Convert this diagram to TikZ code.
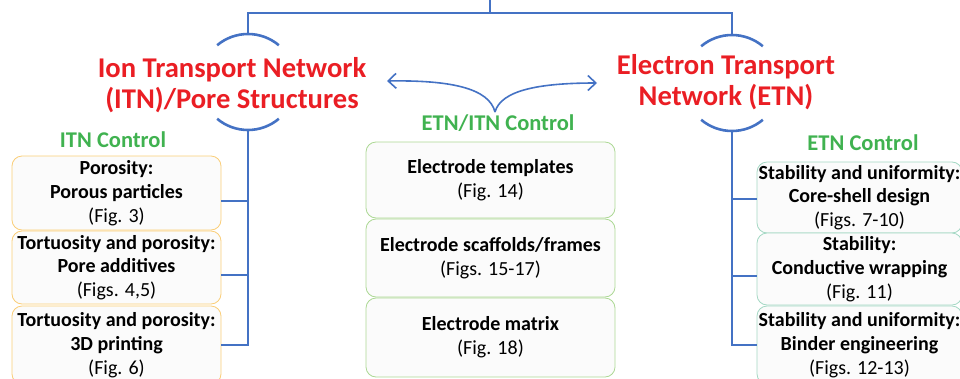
\documentclass[tikz,border=0pt]{standalone}
\usepackage{fontspec}
\setmainfont{Carlito}
\usetikzlibrary{arrows.meta}
\definecolor{linkblue}{RGB}{68,114,196}
\definecolor{titlered}{RGB}{234,30,36}
\definecolor{ctrlgreen}{RGB}{64,178,80}
\definecolor{itnedge}{RGB}{250,206,120}
\definecolor{midedge}{RGB}{172,216,148}
\definecolor{etnedge}{RGB}{164,216,196}

\begin{document}
\begin{tikzpicture}[x=1pt,y=-1pt,
  link/.style={draw=linkblue,line width=1.6pt},
  ring/.style={draw=linkblue,line width=2.6pt},
  title/.style={text=titlered,align=center,inner sep=0pt,
    font=\fontsize{28.6}{30.5}\selectfont\bfseries},
  ctrl/.style={text=ctrlgreen,inner sep=0pt,font=\fontsize{22.5}{24}\selectfont\bfseries},
  card/.style={rounded corners=10pt,fill=white!98.5!black,align=center,inner sep=0pt,
    line width=0.8pt,font=\fontsize{20}{23.8}\selectfont\bfseries}]
  \useasboundingbox (0,0) rectangle (960,378);

  % titles and rings
  \node[title] (itn) at (232,85) {Ion Transport Network\\(ITN)/Pore Structures};
  \node[title] (etn) at (726,82) {Electron Transport\\Network (ETN)};
  \coordinate (itnring) at (248,82);
  \coordinate (etnring) at (732,83);
  \draw[ring] ([shift={(-50:48)}]itnring) arc[start angle=-50,end angle=-130,radius=48];
  \draw[ring] ([shift={(50:48)}]itnring) arc[start angle=50,end angle=130,radius=48];
  \draw[ring] ([shift={(-50:48)}]etnring) arc[start angle=-50,end angle=-130,radius=48];
  \draw[ring] ([shift={(50:48)}]etnring) arc[start angle=50,end angle=130,radius=48];
  \coordinate (itntop) at ([yshift=48pt]itnring);
  \coordinate (itnbot) at ([yshift=-48pt]itnring);
  \coordinate (etntop) at ([yshift=48pt]etnring);
  \coordinate (etnbot) at ([yshift=-48pt]etnring);

  % top bus
  \coordinate (top) at (490,0);
  \coordinate (bus) at (490,13);
  \draw[link] (top) -- (bus);
  \draw[link] (itntop) |- (bus) -| (etntop);

  % two-way arrow
  \coordinate (cusp) at (495,112);
  \coordinate (itntip) at (387,81);
  \coordinate (etntip) at (597,83);
  \draw[link,-{Straight Barb[length=8pt,width=15pt]}] (cusp) .. controls (489,88) and (450,80) .. (itntip);
  \draw[link,-{Straight Barb[length=8pt,width=15pt]}] (cusp) .. controls (501,90) and (540,83) .. (etntip);

  % control labels
  \node[ctrl] (itnctrl) at (113,140) {ITN Control};
  \node[ctrl] (midctrl) at (498,123) {ETN/ITN Control};
  \node[ctrl] (etnctrl) at (863,143) {ETN Control};

  % ITN boxes
  \node[card,draw=itnedge,minimum width=209pt,minimum height=74pt] (itn1) at (116.5,193)
    {Porosity:\\Porous particles\\\mdseries(Fig. 3)};
  \node[card,draw=itnedge,minimum width=209pt,minimum height=73pt] (itn2) at (116.5,267.5)
    {Tortuosity and porosity:\\Pore additives\\\mdseries(Figs. 4,5)};
  \node[card,draw=itnedge,minimum width=209pt,minimum height=78pt] (itn3) at (116.5,345)
    {Tortuosity and porosity:\\3D printing\\\mdseries(Fig. 6)};

  % middle boxes
  \node[card,draw=midedge,minimum width=249pt,minimum height=76pt] (mid1) at (490.5,180)
    {Electrode templates\\\mdseries(Fig. 14)};
  \node[card,draw=midedge,minimum width=249pt,minimum height=78pt] (mid2) at (490.5,258)
    {Electrode scaffolds/frames\\\mdseries(Figs. 15-17)};
  \node[card,draw=midedge,minimum width=249pt,minimum height=79pt] (mid3) at (490.5,337.5)
    {Electrode matrix\\\mdseries(Fig. 18)};

  % ETN boxes
  \node[card,draw=etnedge,minimum width=205pt,minimum height=71pt] (etn1) at (859.5,197.5)
    {Stability and uniformity:\\Core-shell design\\\mdseries(Figs. 7-10)};
  \node[card,draw=etnedge,minimum width=205pt,minimum height=72pt] (etn2) at (859.5,269)
    {Stability:\\Conductive wrapping\\\mdseries(Fig. 11)};
  \node[card,draw=etnedge,minimum width=205pt,minimum height=78pt] (etn3) at (859.5,345)
    {Stability and uniformity:\\Binder engineering\\\mdseries(Figs. 12-13)};

  % branches
  \draw[link,line width=1.2pt] (itnbot) |- (itn3.east);
  \draw[link,line width=1.2pt] ([yshift=-8pt]itn1.east) -- ([yshift=-8pt]itn1.east -| itnbot);
  \draw[link,line width=1.2pt] ([yshift=-7.5pt]itn2.east) -- ([yshift=-7.5pt]itn2.east -| itnbot);
  \draw[link,line width=1.2pt] (etnbot) |- (etn3.west);
  \draw[link,line width=1.2pt] ([yshift=-1.5pt]etn1.west) -- ([yshift=-1.5pt]etn1.west -| etnbot);
  \draw[link,line width=1.2pt] ([yshift=-7pt]etn2.west) -- ([yshift=-7pt]etn2.west -| etnbot);
\end{tikzpicture}
\end{document}
